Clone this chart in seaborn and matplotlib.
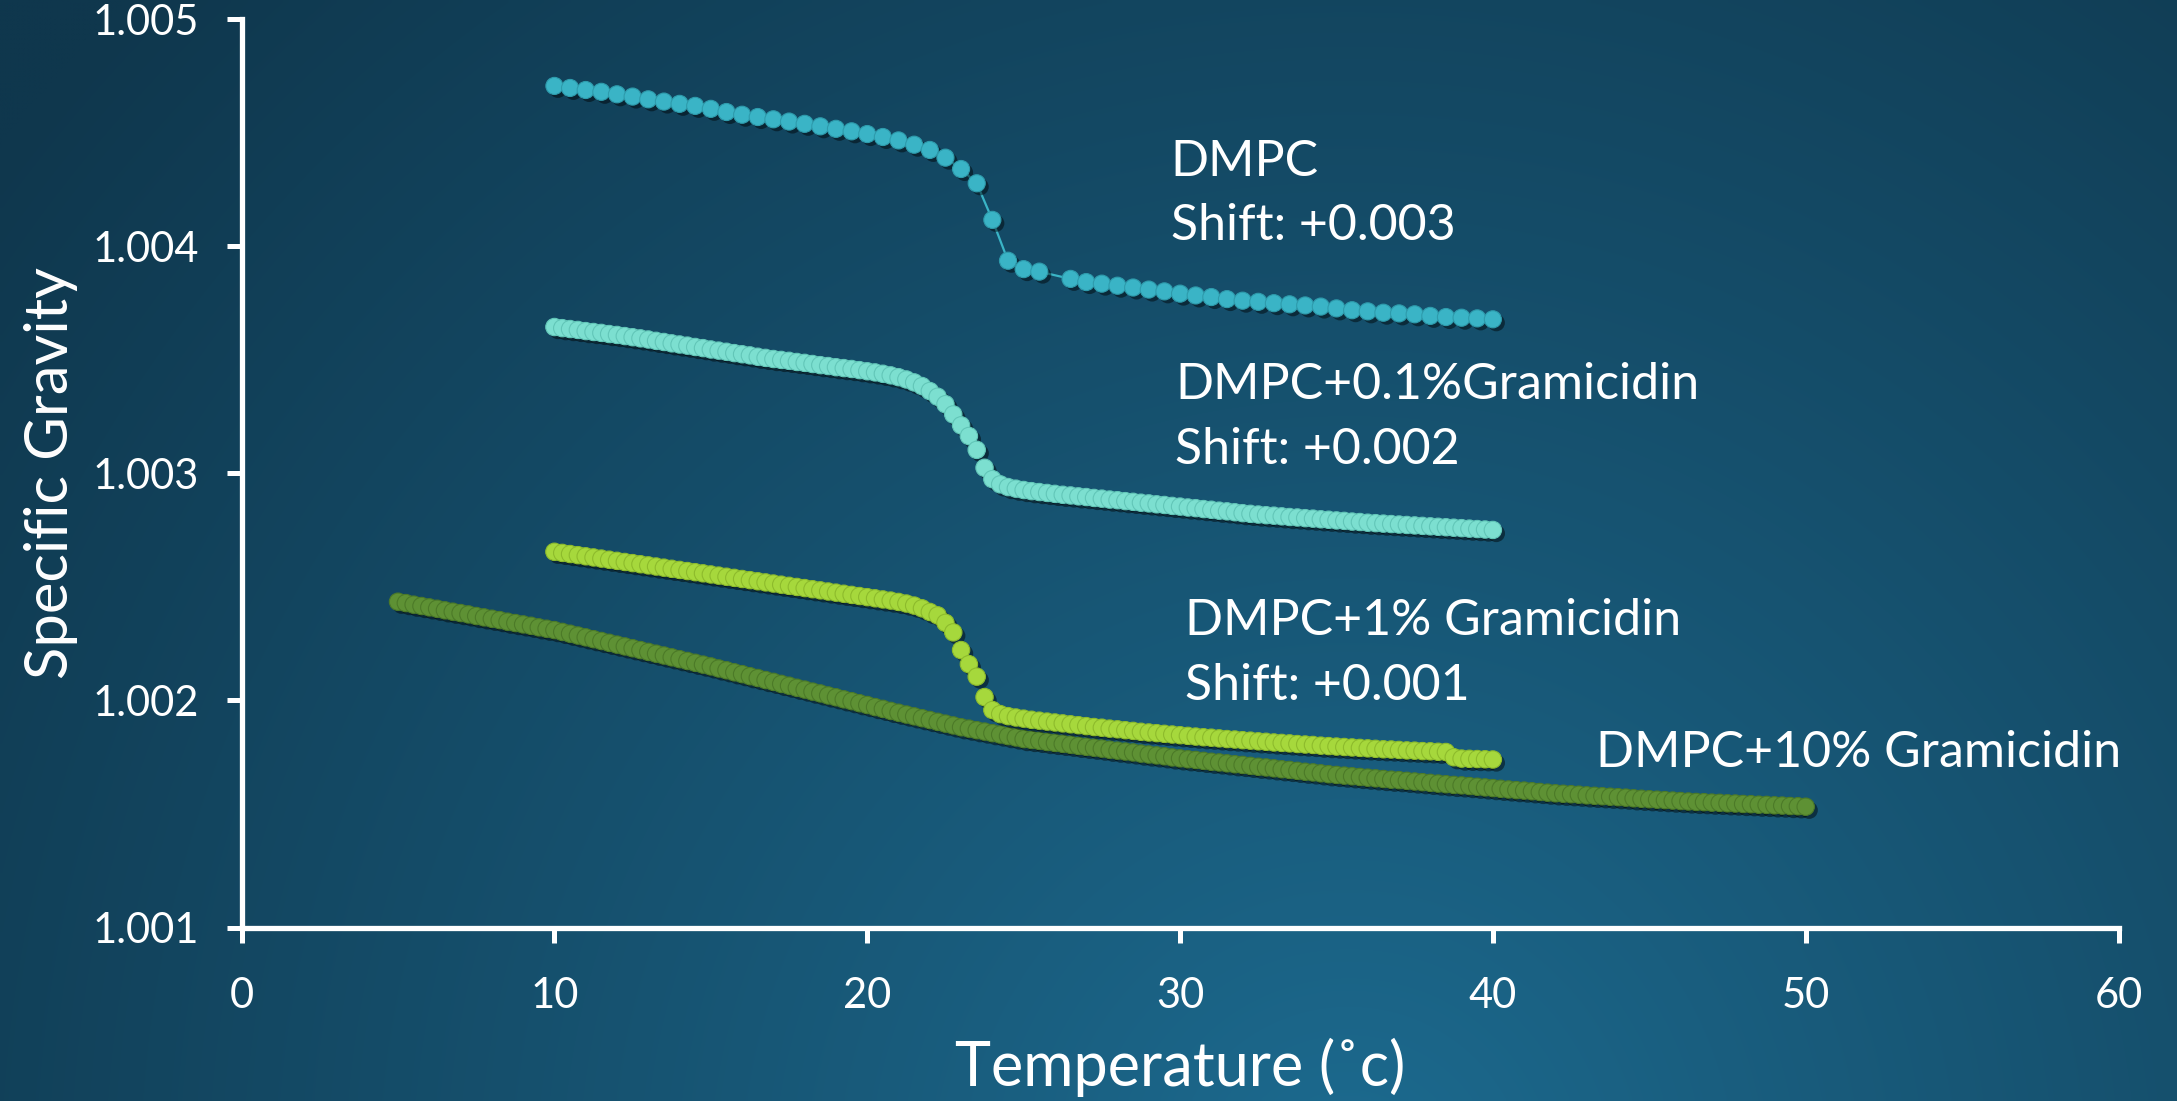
import numpy as np
import pandas as pd
import matplotlib
matplotlib.use("Agg")
import matplotlib.pyplot as plt
import matplotlib.patheffects as pe
import seaborn as sns

sns.set_theme(style="white")
plt.rcParams["font.family"] = ["Lato", "DejaVu Sans"]

# ---------------- data ----------------
dmpc_T = [10, 10.5, 11, 11.5, 12, 12.5, 13, 13.5, 14, 14.5, 15, 15.5, 16, 16.5, 17, 17.5,
          18, 18.5, 19, 19.5, 20, 20.5, 21, 21.5, 22, 22.5, 23, 23.5, 24, 24.5, 25, 25.5,
          26.5, 27, 27.5, 28, 28.5, 29, 29.5, 30, 30.5, 31, 31.5, 32, 32.5, 33, 33.5, 34,
          34.5, 35, 35.5, 36, 36.5, 37, 37.5, 38, 38.5, 39, 39.5, 40]
dmpc_SG = [1.004707, 1.004698, 1.004689, 1.004681, 1.004670, 1.004660, 1.004648, 1.004638,
           1.004628, 1.004619, 1.004606, 1.004592, 1.004580, 1.004570, 1.004560, 1.004550,
           1.004540, 1.004529, 1.004518, 1.004507, 1.004495, 1.004482, 1.004467, 1.004448,
           1.004425, 1.004391, 1.004341, 1.004278, 1.004117, 1.003937, 1.003900, 1.003889,
           1.003857, 1.003843, 1.003836, 1.003827, 1.003819, 1.003810, 1.003802, 1.003792,
           1.003784, 1.003777, 1.003768, 1.003761, 1.003756, 1.003750, 1.003745, 1.003740,
           1.003735, 1.003727, 1.003719, 1.003714, 1.003708, 1.003705, 1.003701, 1.003694,
           1.003689, 1.003686, 1.003683, 1.003679]

# measurement grid of the dense runs (0.25 degC steps)
g01_T = np.arange(10, 40.001, 0.25)
g01_SG = [1.003645, 1.003640, 1.003636, 1.003632, 1.003627, 1.003623, 1.003619, 1.003614, 1.003610, 1.003605,
          1.003600, 1.003595, 1.003590, 1.003584, 1.003579, 1.003573, 1.003568, 1.003563, 1.003557, 1.003552,
          1.003546, 1.003541, 1.003536, 1.003530, 1.003525, 1.003520, 1.003514, 1.003509, 1.003504, 1.003500,
          1.003496, 1.003491, 1.003487, 1.003482, 1.003477, 1.003473, 1.003468, 1.003464, 1.003460, 1.003455,
          1.003450, 1.003445, 1.003439, 1.003432, 1.003424, 1.003414, 1.003401, 1.003385, 1.003363, 1.003338,
          1.003305, 1.003260, 1.003212, 1.003165, 1.003104, 1.003025, 1.002975, 1.002952, 1.002940, 1.002933,
          1.002927, 1.002922, 1.002918, 1.002914, 1.002910, 1.002906, 1.002903, 1.002899, 1.002896, 1.002892,
          1.002889, 1.002885, 1.002882, 1.002878, 1.002875, 1.002871, 1.002868, 1.002864, 1.002861, 1.002857,
          1.002854, 1.002850, 1.002847, 1.002843, 1.002840, 1.002836, 1.002833, 1.002829, 1.002825, 1.002822,
          1.002819, 1.002816, 1.002814, 1.002811, 1.002808, 1.002806, 1.002803, 1.002801, 1.002798, 1.002796,
          1.002793, 1.002791, 1.002788, 1.002786, 1.002783, 1.002781, 1.002779, 1.002777, 1.002775, 1.002773,
          1.002771, 1.002769, 1.002767, 1.002765, 1.002763, 1.002761, 1.002759, 1.002757, 1.002755, 1.002753,
          1.002751]

g1_T = np.arange(10, 40.001, 0.25)
g1_SG = [1.002655, 1.002650, 1.002645, 1.002640, 1.002635, 1.002630, 1.002625, 1.002620, 1.002615, 1.002610,
         1.002605, 1.002600, 1.002595, 1.002590, 1.002585, 1.002580, 1.002575, 1.002570, 1.002565, 1.002560,
         1.002555, 1.002550, 1.002545, 1.002540, 1.002535, 1.002530, 1.002525, 1.002520, 1.002515, 1.002510,
         1.002505, 1.002500, 1.002495, 1.002490, 1.002485, 1.002480, 1.002475, 1.002470, 1.002465, 1.002460,
         1.002455, 1.002450, 1.002445, 1.002440, 1.002434, 1.002427, 1.002418, 1.002406, 1.002390, 1.002375,
         1.002342, 1.002300, 1.002222, 1.002160, 1.002105, 1.002015, 1.001958, 1.001940, 1.001931, 1.001925,
         1.001920, 1.001915, 1.001911, 1.001907, 1.001903, 1.001899, 1.001895, 1.001891, 1.001887, 1.001883,
         1.001880, 1.001876, 1.001873, 1.001869, 1.001866, 1.001862, 1.001859, 1.001856, 1.001853, 1.001850,
         1.001847, 1.001844, 1.001841, 1.001838, 1.001836, 1.001833, 1.001830, 1.001828, 1.001825, 1.001823,
         1.001820, 1.001818, 1.001815, 1.001813, 1.001811, 1.001808, 1.001806, 1.001804, 1.001801, 1.001799,
         1.001797, 1.001795, 1.001793, 1.001791, 1.001789, 1.001787, 1.001785, 1.001784, 1.001782, 1.001780,
         1.001779, 1.001777, 1.001776, 1.001774, 1.001773, 1.001750, 1.001744, 1.001743, 1.001742, 1.001741,
         1.001740]

g10_T = np.arange(5, 50.001, 0.25)
g10_SG = [1.002435, 1.002429, 1.002422, 1.002416, 1.002410, 1.002404, 1.002397, 1.002391, 1.002385, 1.002379,
          1.002372, 1.002366, 1.002360, 1.002354, 1.002347, 1.002341, 1.002335, 1.002329, 1.002322, 1.002316,
          1.002310, 1.002302, 1.002294, 1.002286, 1.002278, 1.002270, 1.002262, 1.002254, 1.002246, 1.002238,
          1.002230, 1.002222, 1.002214, 1.002206, 1.002198, 1.002190, 1.002182, 1.002174, 1.002166, 1.002158,
          1.002150, 1.002141, 1.002133, 1.002124, 1.002116, 1.002107, 1.002099, 1.002090, 1.002082, 1.002073,
          1.002065, 1.002056, 1.002048, 1.002039, 1.002031, 1.002022, 1.002014, 1.002005, 1.001997, 1.001988,
          1.001980, 1.001971, 1.001963, 1.001954, 1.001946, 1.001938, 1.001930, 1.001922, 1.001914, 1.001906,
          1.001898, 1.001890, 1.001882, 1.001876, 1.001869, 1.001863, 1.001856, 1.001850, 1.001843, 1.001837,
          1.001830, 1.001826, 1.001822, 1.001817, 1.001813, 1.001809, 1.001805, 1.001800, 1.001796, 1.001792,
          1.001788, 1.001783, 1.001779, 1.001775, 1.001771, 1.001766, 1.001762, 1.001758, 1.001754, 1.001749,
          1.001745, 1.001741, 1.001738, 1.001734, 1.001730, 1.001727, 1.001723, 1.001719, 1.001716, 1.001712,
          1.001708, 1.001705, 1.001701, 1.001697, 1.001694, 1.001690, 1.001686, 1.001683, 1.001679, 1.001675,
          1.001672, 1.001669, 1.001666, 1.001663, 1.001660, 1.001657, 1.001654, 1.001651, 1.001649, 1.001646,
          1.001643, 1.001640, 1.001637, 1.001634, 1.001631, 1.001628, 1.001626, 1.001623, 1.001620, 1.001617,
          1.001614, 1.001611, 1.001608, 1.001605, 1.001603, 1.001600, 1.001597, 1.001594, 1.001591, 1.001589,
          1.001587, 1.001585, 1.001582, 1.001580, 1.001578, 1.001576, 1.001574, 1.001572, 1.001569, 1.001567,
          1.001565, 1.001563, 1.001561, 1.001559, 1.001557, 1.001555, 1.001553, 1.001552, 1.001550, 1.001549,
          1.001547, 1.001546, 1.001544, 1.001543, 1.001541, 1.001540, 1.001538, 1.001537, 1.001535, 1.001534,
          1.001532]

x_ticks = [0, 10, 20, 30, 40, 50, 60]
x_tick_labels = ["0", "10", "20", "30", "40", "50", "60"]
y_ticks = [1.001, 1.002, 1.003, 1.004, 1.005]
y_tick_labels = ["1.001", "1.002", "1.003", "1.004", "1.005"]

annotations = [
    (29.7, 1.004370, "DMPC"),
    (29.7, 1.004088, "Shift: +0.003"),
    (29.85, 1.003390, "DMPC+0.1%Gramicidin"),
    (29.85, 1.003104, "Shift: +0.002"),
    (30.15, 1.002350, "DMPC+1% Gramicidin"),
    (30.15, 1.002064, "Shift: +0.001"),
    (43.3, 1.001770, "DMPC+10% Gramicidin"),
]

# ---------------- figure ----------------
W, H = 2177, 1101
fig = plt.figure(figsize=(W / 100, H / 100), dpi=100)

# background gradient (decoration)
bg = fig.add_axes([0, 0, 1, 1], zorder=0)
bg.axis("off")
gh, gw = 220, 436
vv, uu = np.mgrid[0:gh, 0:gw]
u = uu / (gw - 1)
v = vv / (gh - 1)
d = np.sqrt(((u - 0.62) * 1.98) ** 2 + (v - 1.08) ** 2) / 1.55
t = np.clip(d, 0, 1) ** 0.9
light = np.array([29, 108, 145]) / 255.0
dark = np.array([15, 55, 77]) / 255.0
img = light[None, None, :] * (1 - t[..., None]) + dark[None, None, :] * t[..., None]
bg.imshow(img, aspect="auto", extent=[0, 1, 0, 1], origin="upper", interpolation="bilinear")
bg.set_xlim(0, 1)
bg.set_ylim(0, 1)

left, right = 241.6 / W, 2118.5 / W
bottom, top = 1 - 927.5 / H, 1 - 19.4 / H
ax = fig.add_axes([left, bottom, right - left, top - bottom], zorder=1)
ax.patch.set_alpha(0)

shadow = [pe.SimplePatchShadow(offset=(2.5, -2.5), shadow_rgbFace="black", alpha=0.45), pe.Normal()]

series = [
    (g10_T, g10_SG, "#5E9134", "#4C7A28", 12.5, False),
    (g1_T, g1_SG, "#A6D83C", "#8DBB2C", 12.5, False),
    (g01_T, g01_SG, "#7CDFD0", "#62C6B8", 12.5, False),
    (dmpc_T, dmpc_SG, "#3AB4C6", "#2E9BAC", 12.3, True),
]

for T, SG, col, ecol, ms, with_line in series:
    df = pd.DataFrame({"T": T, "SG": SG})
    if with_line:
        sns.lineplot(data=df, x="T", y="SG", ax=ax, color=col, linewidth=1.6,
                     estimator=None, sort=False)
    sns.lineplot(data=df, x="T", y="SG", ax=ax, color=col, linestyle="none",
                 marker="o", markersize=ms, markerfacecolor=col,
                 markeredgecolor=ecol, markeredgewidth=0.8,
                 estimator=None, sort=False, path_effects=shadow)

ax.set_xlim(0, 60)
ax.set_ylim(1.001, 1.005)
ax.set_xticks(x_ticks)
ax.set_xticklabels(x_tick_labels)
ax.set_yticks(y_ticks)
ax.set_yticklabels(y_tick_labels)

for s in ["top", "right"]:
    ax.spines[s].set_visible(False)
for s in ["left", "bottom"]:
    ax.spines[s].set_color("white")
    ax.spines[s].set_linewidth(3.8)

ax.tick_params(axis="both", which="major", direction="out", length=11, width=3.6,
               color="white", labelcolor="white", labelsize=30)
ax.tick_params(axis="x", pad=25, bottom=True)
ax.tick_params(axis="y", pad=20, left=True)

ax.set_xlabel("Temperature (˚c)", color="white", fontsize=44, labelpad=16)
ax.set_ylabel("Specific Gravity", color="white", fontsize=43, labelpad=10)

for x, y, s in annotations:
    ax.text(x, y, s, color="white", fontsize=36, ha="left", va="center")

ax.grid(False)
fig.savefig("out.png", dpi=100)
